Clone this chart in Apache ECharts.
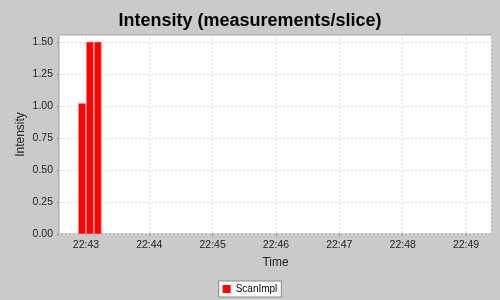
<!DOCTYPE html>
<html>
<head>
<meta charset="utf-8">
<script src="https://cdn.jsdelivr.net/npm/echarts@6/dist/echarts.min.js"></script>
<style>
html,body{margin:0;padding:0;background:#cacaca;}
#c{width:500px;height:300px;}
</style>
</head>
<body>
<div id="c"></div>
<script>
// ---- data ----
const sliceStart = ['22:42:52.5', '22:43:00', '22:43:07.5'];
const sliceEnd   = ['22:43:00', '22:43:07.5', '22:43:15'];
const intensity  = [1.02, 1.5, 1.5];
const seriesName = 'ScanImpl';
const xMinTime = '22:42:34.5';
const xMaxTime = '22:49:24.6';
const yTicks = [0, 0.25, 0.5, 0.75, 1.0, 1.25, 1.5];

function t(hms) {
  const p = hms.split(':');
  return new Date(2010, 0, 1, +p[0], +p[1], 0).getTime() + parseFloat(p[2]) * 1000;
}
const rows = sliceStart.map((s, i) => [t(s), t(sliceEnd[i]), intensity[i]]);

const font = 'Liberation Sans, Arial, sans-serif';
const chart = echarts.init(document.getElementById('c'), null, {renderer: 'canvas'});
chart.setOption({
  animation: false,
  backgroundColor: '#cacaca',
  title: {
    text: 'Intensity (measurements/slice)',
    left: 'center', top: 7,
    textStyle: {fontFamily: font, fontSize: 18, fontWeight: 'bold', color: '#000'}
  },
  legend: {
    bottom: 3, left: 'center',
    data: [{name: seriesName, icon: 'rect'}],
    itemWidth: 8, itemHeight: 8,
    padding: [3, 4, 3, 4],
    backgroundColor: '#fff', borderColor: '#888', borderWidth: 1,
    textStyle: {fontFamily: font, fontSize: 10, color: '#000'}
  },
  grid: {
    left: 59, right: 8, top: 35, bottom: 66,
    show: true, backgroundColor: '#fff', borderColor: '#999', borderWidth: 1,
    containLabel: false
  },
  xAxis: {
    type: 'time',
    min: t(xMinTime), max: t(xMaxTime),
    minInterval: 60000, maxInterval: 60000,
    name: 'Time', nameLocation: 'middle', nameGap: 23, nameMoveOverlap: false,
    nameTextStyle: {fontFamily: font, fontSize: 12, color: '#222'},
    axisLine: {show: false},
    axisTick: {show: true, length: 2, lineStyle: {color: '#888'}},
    axisLabel: {
      fontFamily: font, fontSize: 10.5, color: '#222', margin: 6,
      showMinLabel: false, showMaxLabel: false,
      formatter: function (v) {
        const d = new Date(v);
        return String(d.getHours()).padStart(2, '0') + ':' + String(d.getMinutes()).padStart(2, '0');
      }
    },
    splitLine: {show: true, lineStyle: {color: '#dddddd', type: [2, 2], width: 1}}
  },
  yAxis: {
    type: 'value',
    min: yTicks[0], max: 1.555, interval: 0.25,
    name: 'Intensity', nameLocation: 'middle', nameGap: 32, nameMoveOverlap: false,
    nameTextStyle: {fontFamily: font, fontSize: 12, color: '#222'},
    axisLine: {show: false},
    axisTick: {show: true, length: 2, lineStyle: {color: '#888'}},
    axisLabel: {
      fontFamily: font, fontSize: 10.5, color: '#222', margin: 6,
      showMaxLabel: false,
      formatter: v => (yTicks.indexOf(+v.toFixed(2)) >= 0 ? v.toFixed(2) : '')
    },
    splitLine: {show: true, lineStyle: {color: '#dddddd', type: [2, 2], width: 1}}
  },
  series: [{
    name: seriesName,
    type: 'custom',
    itemStyle: {color: '#ff0000'},
    encode: {x: [0, 1], y: 2},
    data: rows,
    renderItem: function (params, api) {
      const p0 = api.coord([api.value(0), api.value(2)]);
      const p1 = api.coord([api.value(1), 0]);
      return {
        type: 'rect',
        shape: {x: p0[0] + 0.5, y: p0[1], width: p1[0] - p0[0] - 1, height: p1[1] - p0[1]},
        style: {fill: '#ff0000', stroke: '#ff8f8f', lineWidth: 0.6}
      };
    }
  }]
});
</script>
</body>
</html>
